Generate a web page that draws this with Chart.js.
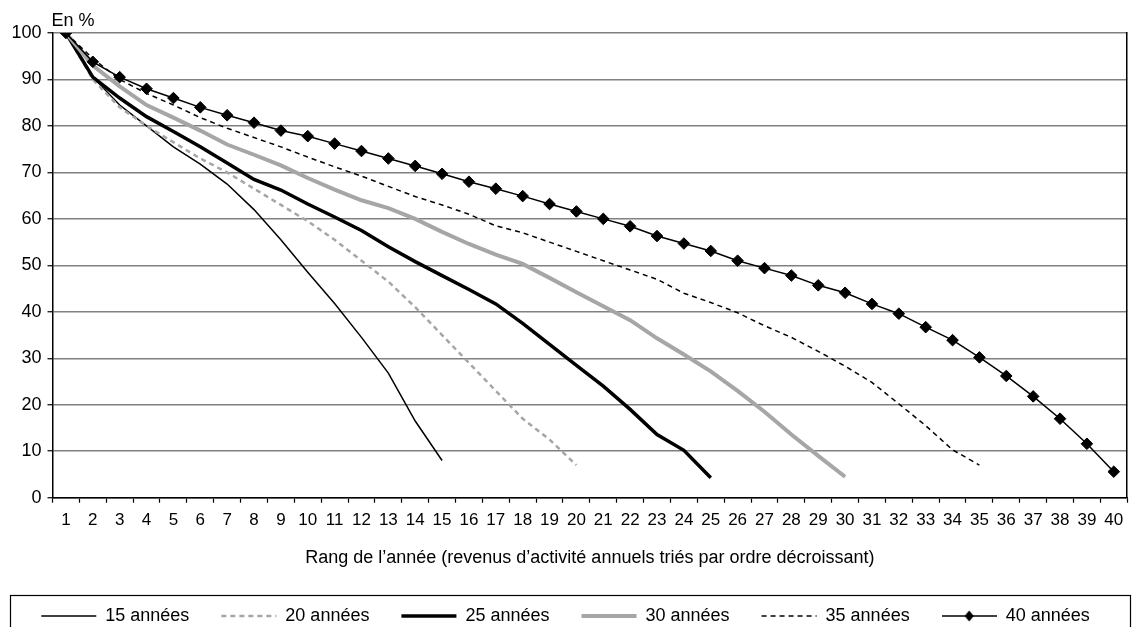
<!DOCTYPE html>
<html>
<head>
<meta charset="utf-8">
<script src="https://cdn.jsdelivr.net/npm/chart.js@4/dist/chart.umd.min.js"></script>
<style>
html,body{margin:0;padding:0;background:#fff;}
#c{display:block;}
</style>
</head>
<body>
<canvas id="c" width="1134" height="627"></canvas>
<script>
const categories = Array.from({length: 40}, (_, i) => String(i + 1));
const seriesLabels = ['15 années', '20 années', '25 années', '30 années', '35 années', '40 années'];
const s15 = [100, 90.5, 84.5, 80, 75.5, 71.8, 67.5, 62, 55.5, 48.5, 41.8, 34.5, 26.8, 16.5, 8];
const s20 = [100, 90, 84, 80, 76.5, 73, 70, 66.5, 63, 59.5, 55.5, 51, 46.5, 41, 35, 29, 23, 17, 12.5, 7];
const s25 = [100, 90.5, 86, 82, 78.8, 75.5, 72, 68.5, 66.2, 63.2, 60.4, 57.5, 54, 50.8, 47.8, 44.8, 41.7, 37.5, 33, 28.5, 24, 19, 13.6, 10.2, 4.3];
const s30 = [100, 93, 88.5, 84.5, 81.8, 79, 76, 73.8, 71.5, 68.8, 66.3, 64, 62.3, 60, 57.2, 54.6, 52.3, 50.3, 47.3, 44.2, 41.2, 38.2, 34.3, 30.8, 27.2, 23, 18.5, 13.6, 9, 4.5];
const s35 = [100, 94.5, 90, 87, 84.5, 81.8, 79.5, 77.5, 75.5, 73.3, 71.2, 69.2, 67, 64.8, 63, 61, 58.5, 57, 55, 53, 51, 49, 47, 44, 42, 39.8, 37, 34.5, 31.5, 28.3, 24.8, 20.2, 15.5, 10.3, 7];
const s40 = [100, 93.8, 90.5, 88, 86, 84, 82.3, 80.7, 79, 77.8, 76.2, 74.6, 73, 71.4, 69.7, 68, 66.5, 64.9, 63.2, 61.6, 60, 58.4, 56.3, 54.7, 53.1, 51, 49.4, 47.8, 45.7, 44.1, 41.7, 39.6, 36.7, 33.9, 30.2, 26.2, 21.8, 17, 11.6, 5.6];
const yTicks = [0, 10, 20, 30, 40, 50, 60, 70, 80, 90, 100];

const FONT = "'Liberation Sans', Arial, Helvetica, sans-serif";
Chart.defaults.font.family = FONT;
Chart.defaults.font.size = 18;
Chart.defaults.color = '#000';

// legend sample for the marker series: line with a diamond
const diamondSample = document.createElement('canvas');
diamondSample.width = 55; diamondSample.height = 16;
(function () {
  const g = diamondSample.getContext('2d');
  g.strokeStyle = '#000'; g.lineWidth = 1.5;
  g.beginPath(); g.moveTo(0, 8); g.lineTo(55, 8); g.stroke();
  g.fillStyle = '#000';
  g.beginPath(); g.moveTo(27.5, 2.5); g.lineTo(32, 8); g.lineTo(27.5, 13.5); g.lineTo(23, 8); g.closePath(); g.fill();
})();

const styles = [
  {color: '#000000', width: 1.5, dash: []},
  {color: '#a6a6a6', width: 2.5, dash: [5, 4]},
  {color: '#000000', width: 3.5, dash: []},
  {color: '#a6a6a6', width: 4, dash: []},
  {color: '#000000', width: 1.5, dash: [5, 4]},
  {color: '#000000', width: 1.5, dash: []}
];
const values = [s15, s20, s25, s30, s35, s40];

const datasets = values.map((v, i) => ({
  label: seriesLabels[i],
  data: v,
  borderColor: styles[i].color,
  backgroundColor: styles[i].color,
  borderWidth: styles[i].width,
  borderDash: styles[i].dash,
  pointRadius: i === 5 ? 5.8 : 0,
  pointHoverRadius: i === 5 ? 5.8 : 0,
  pointStyle: 'rectRot',
  pointBorderWidth: 1,
  pointBackgroundColor: '#000',
  pointBorderColor: '#000',
  tension: 0,
  fill: false,
  order: 6 - i
}));

const decor = {
  id: 'decor',
  afterDraw(chart) {
    const ctx = chart.ctx;
    const a = chart.chartArea;
    ctx.save();
    ctx.fillStyle = '#000';
    ctx.font = '18px ' + FONT;
    ctx.textAlign = 'left';
    ctx.textBaseline = 'middle';
    ctx.fillText('En %', a.left - 1, a.top - 12);
    const lg = chart.legend;
    ctx.strokeStyle = '#000';
    ctx.lineWidth = 1.2;
    ctx.strokeRect(10.5, lg.top + 20.5, 1120, 80);
    ctx.restore();
  }
};

new Chart(document.getElementById('c'), {
  type: 'line',
  data: {labels: categories, datasets},
  options: {
    responsive: false,
    animation: false,
    devicePixelRatio: 1,
    layout: {padding: {left: 0, right: 3, top: 33, bottom: 0}},
    plugins: {
      tooltip: {enabled: false},
      legend: {
        position: 'bottom',
        align: 'center',
        maxHeight: 52,
        labels: {
          usePointStyle: true,
          pointStyleWidth: 55,
          padding: 32,
          font: {size: 18},
          color: '#000',
          generateLabels(chart) {
            return chart.data.datasets.map((ds, i) => ({
              text: ds.label,
              fillStyle: ds.borderColor,
              strokeStyle: ds.borderColor,
              fontColor: '#000',
              lineWidth: ds.borderWidth,
              lineDash: ds.borderDash,
              lineDashOffset: 0,
              lineCap: 'butt',
              lineJoin: 'miter',
              pointStyle: i === 5 ? diamondSample : 'line',
              rotation: 0,
              hidden: false,
              datasetIndex: i
            }));
          }
        }
      }
    },
    scales: {
      x: {
        type: 'category',
        offset: true,
        grid: {display: true, drawOnChartArea: false, drawTicks: true, tickLength: 5, tickColor: '#000', tickWidth: 1.2, offset: true},
        border: {display: true, color: '#000', width: 1.5},
        ticks: {padding: 7, autoSkip: false, maxRotation: 0, font: {size: 17}, color: '#000'},
        title: {display: true, text: 'Rang de l’année (revenus d’activité annuels triés par ordre décroissant)', font: {size: 18}, color: '#000', padding: {top: 10.6, bottom: 5.7}}
      },
      y: {
        min: 0, max: 100,
        afterFit(scale) { scale.width = 52.5; },
        afterBuildTicks(scale) { scale.ticks = yTicks.map(v => ({value: v})); },
        grid: {color: '#808080', lineWidth: 1.5, tickLength: 5, tickColor: '#000', tickWidth: 1.2},
        border: {display: true, color: '#000', width: 1.5},
        ticks: {padding: 6, font: {size: 18}, color: '#000'}
      },
      y2: {
        position: 'right',
        min: 0, max: 100,
        grid: {display: false, drawTicks: false},
        border: {display: true, color: '#000', width: 1.5},
        ticks: {display: false}
      }
    }
  },
  plugins: [decor]
});
</script>
</body>
</html>
